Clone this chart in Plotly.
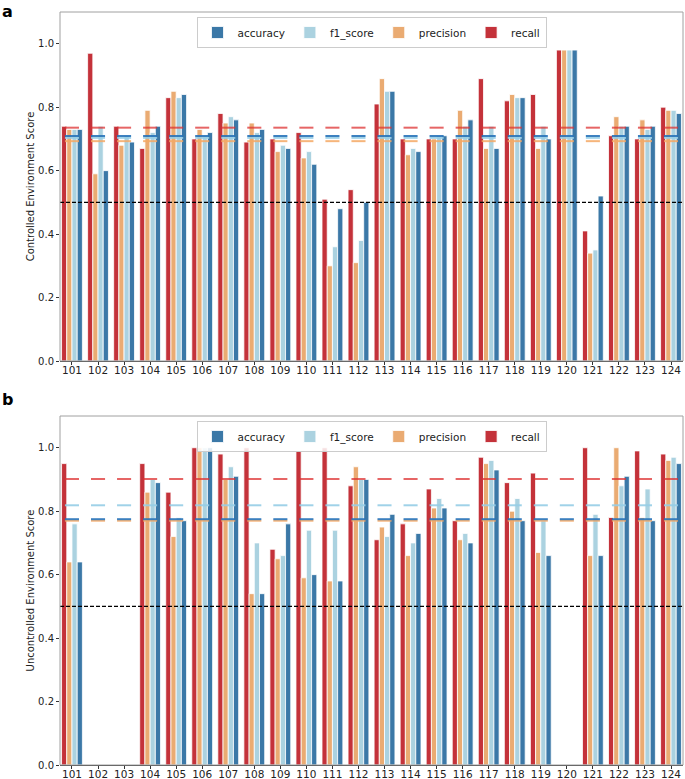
import numpy as np
import plotly.graph_objects as go

categories = [str(c) for c in range(101, 125)]

# Panel a: Controlled environment
a_recall = [0.74, 0.97, 0.74, 0.67, 0.83, 0.70, 0.78, 0.69, 0.70, 0.72, 0.51, 0.54,
            0.81, 0.70, 0.70, 0.70, 0.89, 0.82, 0.84, 0.98, 0.41, 0.71, 0.70, 0.80]
a_precision = [0.73, 0.59, 0.68, 0.79, 0.85, 0.73, 0.75, 0.75, 0.66, 0.64, 0.30, 0.31,
               0.89, 0.65, 0.70, 0.79, 0.67, 0.84, 0.67, 0.98, 0.34, 0.77, 0.76, 0.79]
a_f1 = [0.73, 0.74, 0.71, 0.72, 0.83, 0.71, 0.77, 0.72, 0.68, 0.66, 0.36, 0.38,
        0.85, 0.67, 0.71, 0.74, 0.74, 0.83, 0.74, 0.98, 0.35, 0.74, 0.73, 0.79]
a_accuracy = [0.73, 0.60, 0.69, 0.74, 0.84, 0.72, 0.76, 0.73, 0.67, 0.62, 0.48, 0.50,
              0.85, 0.66, 0.71, 0.76, 0.67, 0.83, 0.70, 0.98, 0.52, 0.74, 0.74, 0.78]

# Panel b: Uncontrolled environment (None = no data)
b_recall = [0.95, None, None, 0.95, 0.86, 1.00, 0.98, 1.00, 0.68, 0.99, 1.00, 0.88,
            0.71, 0.76, 0.87, 0.77, 0.97, 0.89, 0.92, None, 1.00, 0.78, 0.99, 0.98]
b_precision = [0.64, None, None, 0.86, 0.72, 1.00, 0.90, 0.54, 0.65, 0.59, 0.58, 0.94,
               0.75, 0.66, 0.81, 0.71, 0.95, 0.80, 0.67, None, 0.66, 1.00, 0.78, 0.96]
b_f1 = [0.76, None, None, 0.90, 0.78, 1.00, 0.94, 0.70, 0.66, 0.74, 0.74, 0.90,
        0.72, 0.70, 0.84, 0.73, 0.96, 0.84, 0.77, None, 0.79, 0.88, 0.87, 0.97]
b_accuracy = [0.64, None, None, 0.89, 0.77, 1.00, 0.91, 0.54, 0.76, 0.60, 0.58, 0.90,
              0.79, 0.73, 0.81, 0.70, 0.93, 0.77, 0.66, None, 0.66, 0.91, 0.77, 0.95]

metric_names = ["recall", "precision", "f1_score", "accuracy"]
bar_colors = {"recall": "#c4323a", "precision": "#eaab72",
              "f1_score": "#abd2e0", "accuracy": "#3b78a7"}
mean_colors = {"recall": "rgba(222,50,50,0.75)", "precision": "rgba(244,168,100,0.85)",
               "f1_score": "rgba(150,205,230,0.9)", "accuracy": "rgba(40,115,185,0.9)"}
threshold = 0.5

panels = [
    ("a", [a_recall, a_precision, a_f1, a_accuracy], "Controlled Environment Score"),
    ("b", [b_recall, b_precision, b_f1, b_accuracy], "Uncontrolled Environment Score"),
]

W, H = 685, 779
ML, MR, MT, MB = 60, 2, 12, 14
PH = H - MT - MB
domains = [[(H - MB - 361) / PH, 1.0], [0.0, (H - MB - 416) / PH]]

fig = go.Figure()
xidx = np.arange(len(categories))

for p, (label, series, ytitle) in enumerate(panels):
    xa = "x" if p == 0 else "x2"
    ya = "y" if p == 0 else "y2"
    leg = "legend" if p == 0 else "legend2"
    for name, vals in zip(metric_names, series):
        fig.add_trace(go.Bar(
            x=xidx, y=vals, name=name,
            marker=dict(color=bar_colors[name], line=dict(color="white", width=0.8)),
            xaxis=xa, yaxis=ya, legend=leg, showlegend=True,
        ))
    # mean segments per group
    for name, vals in zip(metric_names, series):
        arr = np.array([np.nan if v is None else v for v in vals], dtype=float)
        m = float(np.nanmean(arr))
        xs, ys = [], []
        for i in xidx:
            xs += [i - 0.27, i + 0.27, None]
            ys += [m, m, None]
        fig.add_trace(go.Scatter(
            x=xs, y=ys, mode="lines", line=dict(color=mean_colors[name], width=2),
            xaxis=xa, yaxis=ya, showlegend=False, hoverinfo="skip",
        ))
    # threshold line
    fig.add_trace(go.Scatter(
        x=[-0.46, len(categories) - 0.54], y=[threshold, threshold], mode="lines",
        line=dict(color="black", width=1.2, dash="4px,2px"),
        xaxis=xa, yaxis=ya, showlegend=False, hoverinfo="skip",
    ))
    # box spines
    fig.add_shape(type="rect", xref=f"{xa} domain", yref=f"{ya} domain",
                  x0=0, x1=1, y0=0, y1=1, line=dict(color="#a0a0a0", width=1),
                  layer="above")

axis_font = dict(family="DejaVu Sans", size=10, color="#222")
common_x = dict(
    range=[-0.46, len(categories) - 0.54], tickmode="array", tickvals=list(xidx),
    ticktext=categories, ticks="outside", ticklen=3, tickcolor="#333",
    showline=True, linecolor="#333", linewidth=1, showgrid=False, zeroline=False,
    tickfont=dict(family="DejaVu Sans", size=10.5, color="#222"), automargin=False,
    ticklabelstandoff=-4,
)
common_y = dict(
    range=[0, 1.1], tickvals=[0, 0.2, 0.4, 0.6, 0.8, 1.0],
    ticktext=["0.0", "0.2", "0.4", "0.6", "0.8", "1.0"], ticks="outside",
    ticklen=3, tickcolor="#333", showgrid=False, zeroline=False, showline=False,
    tickfont=axis_font, automargin=False,
)
legend_common = dict(orientation="h", x=0.5, xanchor="center", yanchor="top",
                     traceorder="reversed", bgcolor="rgba(255,255,255,0.85)",
                     bordercolor="#cccccc", borderwidth=1, itemwidth=30,
                     font=dict(family="DejaVu Sans", size=10.5, color="#222"))

fig.update_layout(
    width=W, height=H, margin=dict(l=ML, r=MR, t=MT, b=MB),
    paper_bgcolor="white", plot_bgcolor="white",
    barmode="group", bargap=0.2, bargroupgap=0,
    font=dict(family="DejaVu Sans", size=10.5, color="#222"),
    xaxis=dict(domain=[0, 1], anchor="y", **common_x),
    yaxis=dict(domain=domains[0], anchor="x",
               title=dict(text="Controlled Environment Score", standoff=1,
                          font=dict(family="DejaVu Sans", size=10, color="#222")),
               **common_y),
    xaxis2=dict(domain=[0, 1], anchor="y2", **common_x),
    yaxis2=dict(domain=domains[1], anchor="x2",
                title=dict(text="Uncontrolled Environment Score", standoff=1,
                           font=dict(family="DejaVu Sans", size=10, color="#222")),
                **common_y),
    legend=dict(y=1 - 5 / PH, **legend_common),
    legend2=dict(y=(H - MB - 421) / PH, **legend_common),
    showlegend=True,
)

fig.add_annotation(text="<b>a</b>", xref="paper", yref="paper",
                   x=-ML / (W - ML - MR), xanchor="left", y=1 + 12 / PH, yanchor="top",
                   showarrow=False, font=dict(family="DejaVu Sans", size=16, color="black"))
fig.add_annotation(text="<b>b</b>", xref="paper", yref="paper",
                   x=-ML / (W - ML - MR), xanchor="left", y=(H - MB - 388) / PH,
                   yanchor="top", showarrow=False,
                   font=dict(family="DejaVu Sans", size=16, color="black"))

fig.write_html("out.html", config={"displayModeBar": False},
               post_script="document.body.style.margin='0';document.body.style.overflow='hidden';")
